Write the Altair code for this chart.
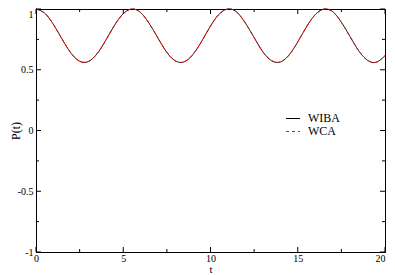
import altair as alt
import pandas as pd

t_vals = [0.0, 0.5, 1.0, 1.5, 2.0, 2.5, 3.0, 3.5, 4.0, 4.5, 5.0, 5.5, 6.0, 6.5, 7.0, 7.5,
          8.0, 8.5, 9.0, 9.5, 10.0, 10.5, 11.0, 11.5, 12.0, 12.5, 13.0, 13.5, 14.0, 14.5,
          15.0, 15.5, 16.0, 16.5, 17.0, 17.5, 18.0, 18.5, 19.0, 19.5, 20.0]
wiba = [1.000, 0.965, 0.872, 0.751, 0.638, 0.570, 0.568, 0.632, 0.743, 0.866, 0.961,
        1.000, 0.970, 0.878, 0.758, 0.643, 0.572, 0.566, 0.627, 0.736, 0.860, 0.958,
        1.000, 0.975, 0.884, 0.765, 0.648, 0.575, 0.564, 0.621, 0.729, 0.853, 0.953,
        0.999, 0.978, 0.891, 0.772, 0.655, 0.578, 0.562, 0.616]
wca = [1.000, 0.965, 0.872, 0.751, 0.638, 0.570, 0.568, 0.632, 0.743, 0.866, 0.961,
       1.000, 0.970, 0.878, 0.758, 0.643, 0.572, 0.566, 0.627, 0.736, 0.860, 0.958,
       1.000, 0.975, 0.884, 0.765, 0.648, 0.575, 0.564, 0.621, 0.729, 0.853, 0.953,
       0.999, 0.978, 0.891, 0.772, 0.655, 0.578, 0.562, 0.616]
series = ["WIBA", "WCA"]
colors = ["black", "red"]
dashes = [[1, 0], [3, 3]]
x_major = [0, 5, 10, 15, 20]
x_minor = [2.5, 7.5, 12.5, 17.5]
y_major = [-1, -0.5, 0, 0.5, 1]
y_minor = [-0.75, -0.25, 0.25, 0.75]

W, H = 349, 243
FONT = "Liberation Serif"

xs = alt.Scale(domain=[0, 20], nice=False, zero=False)
ys = alt.Scale(domain=[-1, 1], nice=False, zero=False)

xaxis = alt.Axis(values=x_major, ticks=False, labelPadding=1, titlePadding=0,
                 domainColor="black", labelFontSize=10, titleFontSize=11,
                 grid=False, labelFlush=False,
                 labelAlign={"condition": {"test": "datum.value == 20", "value": "right"},
                             "value": "center"})
yaxis = alt.Axis(values=y_major, ticks=False, labelPadding=3,
                 titleX=-14, titleY=H / 2,
                 domainColor="black", labelFontSize=10, titleFontSize=12,
                 grid=False, labelFlush=False, labelExpr="datum.value + ''",
                 labelBaseline={"condition": {"test": "datum.value == 1", "value": "top"},
                                "value": "middle"})

def curve(vals, i):
    d = pd.DataFrame({"t": t_vals, "P": vals})
    return alt.Chart(d).mark_line(strokeWidth=1, interpolate="natural",
                                  color=colors[i], strokeDash=dashes[i]).encode(
        x=alt.X("t:Q", scale=xs, title="t", axis=xaxis),
        y=alt.Y("P:Q", scale=ys, title="P(t)", axis=yaxis),
    )

def legend_row(i, y):
    d = pd.DataFrame({"s": [series[i]]})
    sym = alt.Chart(d).mark_rule(color=colors[i], strokeDash=dashes[i], strokeWidth=1).encode(
        x=alt.value(250), x2=alt.value(264), y=alt.value(y + 0.5))
    txt = alt.Chart(d).mark_text(align="left", baseline="middle", fontSize=12,
                                 font=FONT, color="black").encode(
        x=alt.value(272), y=alt.value(y), text="s:N")
    return sym + txt

def xticks(vals, length):
    d = pd.DataFrame({"t": vals})
    b = alt.Chart(d).mark_rule(color="black", strokeWidth=1).encode(
        x=alt.X("t:Q", scale=xs, title="t", axis=xaxis),
        y=alt.value(H), y2=alt.value(H - length))
    tp = alt.Chart(d).mark_rule(color="black", strokeWidth=1).encode(
        x=alt.X("t:Q", scale=xs, title="t", axis=xaxis),
        y=alt.value(0), y2=alt.value(length))
    return b + tp

def yticks(vals, length):
    d = pd.DataFrame({"P": vals})
    l = alt.Chart(d).mark_rule(color="black", strokeWidth=1).encode(
        y=alt.Y("P:Q", scale=ys, title="P(t)", axis=yaxis),
        x=alt.value(0), x2=alt.value(length))
    r = alt.Chart(d).mark_rule(color="black", strokeWidth=1).encode(
        y=alt.Y("P:Q", scale=ys, title="P(t)", axis=yaxis),
        x=alt.value(W), x2=alt.value(W - length))
    return l + r

chart = alt.layer(
    curve(wiba, 0), curve(wca, 1),
    xticks(x_major, 5), xticks(x_minor, 3),
    yticks(y_major, 5), yticks(y_minor, 3),
    legend_row(0, 109), legend_row(1, 122),
).properties(
    width=W, height=H,
    autosize=alt.AutoSizeParams(type="none"),
    padding={"left": 28, "top": 1, "right": 2, "bottom": 23},
).configure(
    font=FONT,
).configure_view(
    stroke="black", strokeWidth=1,
).configure_axis(
    labelFont=FONT, titleFont=FONT, labelColor="black", titleColor="black",
    titleFontWeight="normal",
)

chart.save("out.html", embed_options={"renderer": "svg", "actions": False})
